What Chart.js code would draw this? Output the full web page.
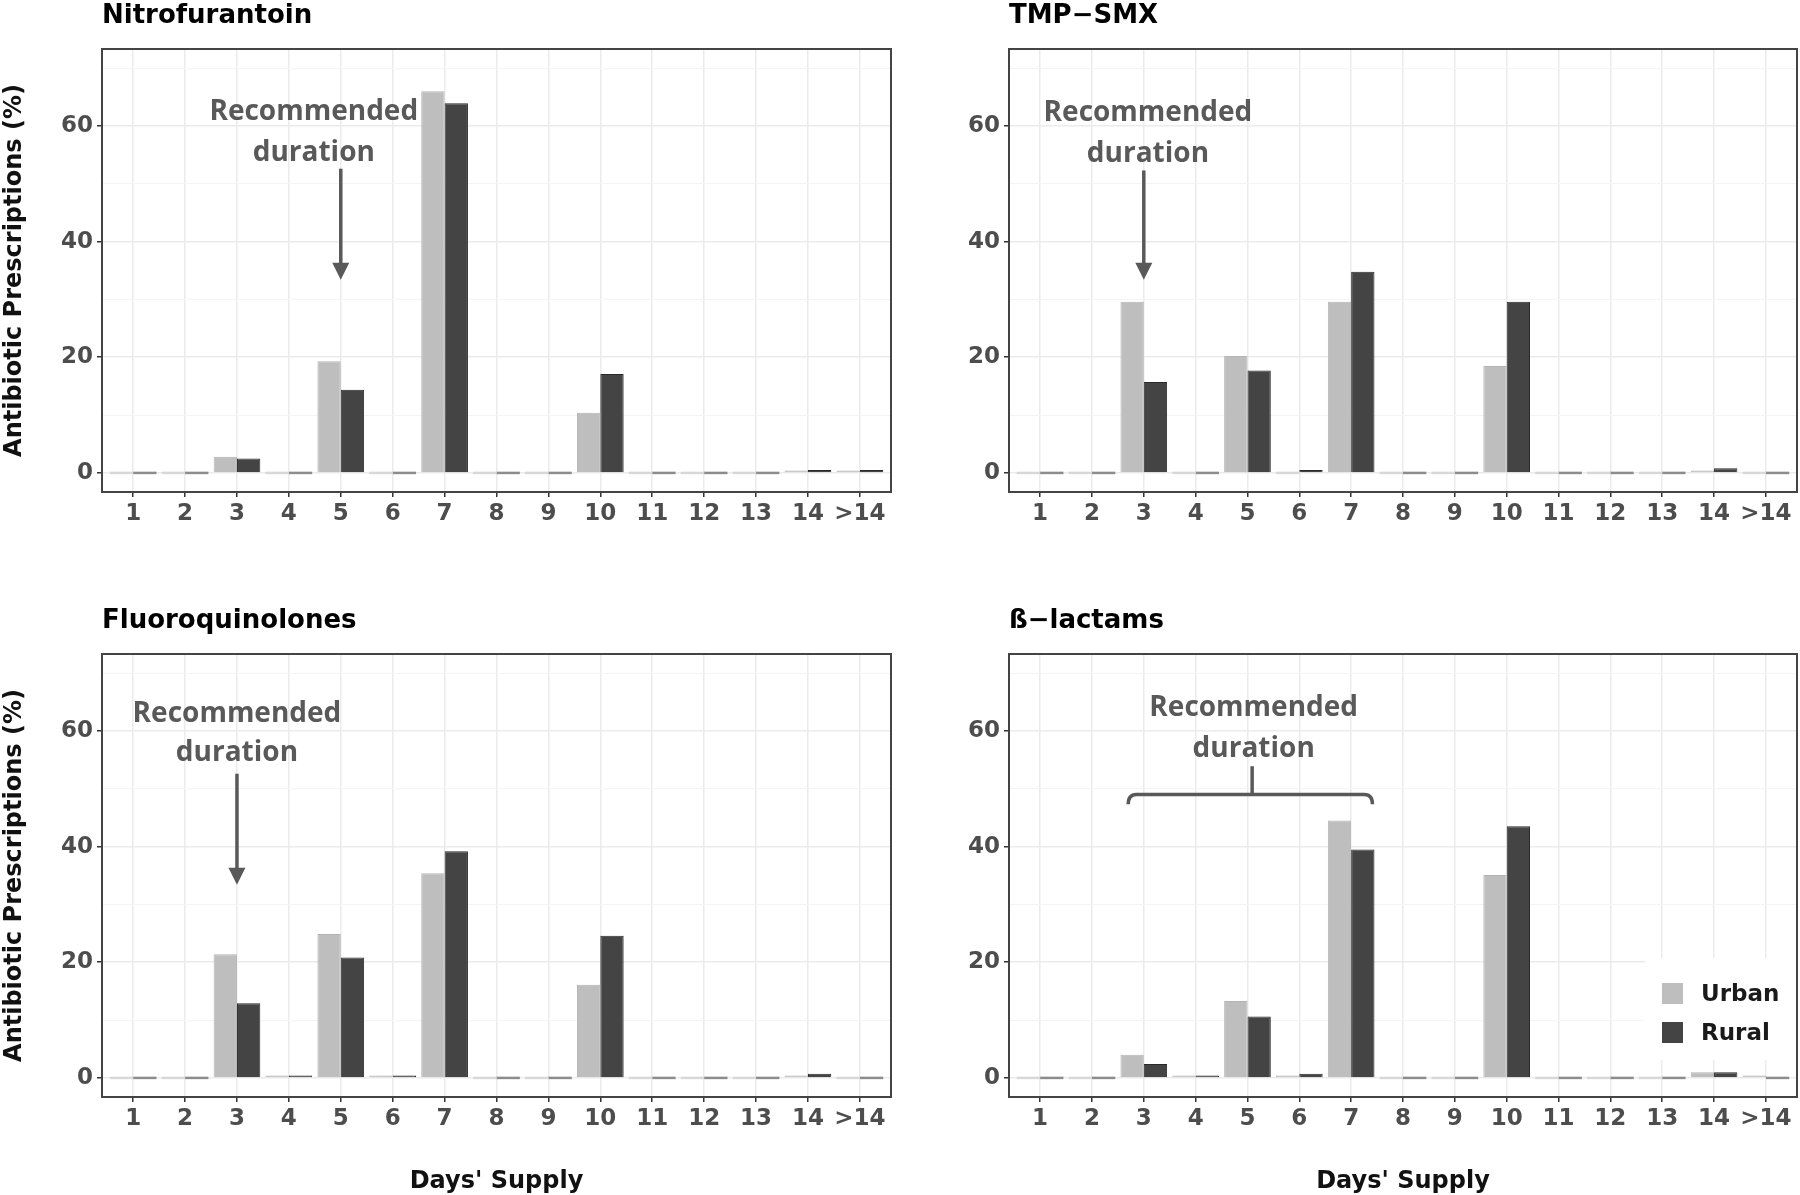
<!DOCTYPE html>
<html>
<head>
<meta charset="utf-8">
<script src="https://cdn.jsdelivr.net/npm/chart.js@4.4.1/dist/chart.umd.min.js"></script>
<style>
  body { margin: 0; background: #fff; }
  #wrap { position: relative; width: 1800px; height: 1195px; background: #fff; }
  #wrap canvas { position: absolute; }
</style>
</head>
<body>
<div id="wrap">
  <canvas id="nitro" width="900" height="540" style="left:0;top:0"></canvas>
  <canvas id="tmp" width="900" height="540" style="left:900px;top:0"></canvas>
  <canvas id="fluoro" width="900" height="655" style="left:0;top:540px"></canvas>
  <canvas id="beta" width="900" height="655" style="left:900px;top:540px"></canvas>
</div>
<script>
// days' supply categories
const days = ['1', '2', '3', '4', '5', '6', '7', '8', '9', '10', '11', '12', '13', '14', '>14'];
const yTickValues = [0, 10, 20, 30, 40, 50, 60, 70];
const yLabelStep = 20;

// % of prescriptions
const nitroUrban = [0, 0, 2.8, 0, 19.3, 0, 66.0, 0, 0, 10.4, 0, 0, 0, 0.3, 0.1];
const nitroRural = [0, 0, 2.5, 0, 14.4, 0, 63.9, 0, 0, 17.1, 0, 0, 0, 0.5, 0.5];
const tmpUrban = [0, 0, 29.6, 0, 20.2, 0, 29.6, 0, 0, 18.5, 0, 0, 0, 0.3, 0];
const tmpRural = [0, 0, 15.7, 0, 17.7, 0.5, 34.8, 0, 0, 29.6, 0, 0, 0, 0.8, 0];
const fluoroUrban = [0, 0, 21.4, 0.3, 24.9, 0.3, 35.4, 0, 0, 16.1, 0, 0, 0, 0.3, 0];
const fluoroRural = [0, 0, 12.9, 0.4, 20.8, 0.4, 39.2, 0, 0, 24.6, 0, 0, 0, 0.7, 0];
const betaUrban = [0, 0, 4.0, 0.3, 13.3, 0.3, 44.5, 0, 0, 35.1, 0, 0, 0, 1.0, 0.3];
const betaRural = [0, 0, 2.4, 0.4, 10.6, 0.7, 39.5, 0, 0, 43.5, 0, 0, 0, 1.0, 0];

const seriesNames = ['Urban', 'Rural'];
const seriesColors = ['#bebebe', '#444444'];
const zeroColors = ['#d8d8d8', '#8c8c8c'];
const edgeColors = ['#b4b4b4', '#2a2a2a'];

const tickFont = { family: 'DejaVu Sans', weight: 'bold', size: 23 };
const tickColor = '#4d4d4d';
const noteFont = 'bold 28px "Open Sans"';
const noteColor = '#595959';

// 注释: 推荐疗程 (data coordinates)
const notes = {
    nitro: { kind: 'arrow', textX: 4.48, line1Y: 61.1, line2Y: 53.9, arrowX: 5, fromY: 52.6, toY: 33.4 },
    tmp: { kind: 'arrow', textX: 3.08, line1Y: 60.8, line2Y: 53.7, arrowX: 3, fromY: 52.3, toY: 33.4 },
    fluoro: { kind: 'arrow', textX: 3.0, line1Y: 61.6, line2Y: 54.8, arrowX: 3, fromY: 52.6, toY: 33.4 },
    beta: { kind: 'brace', textX: 5.12, line1Y: 62.6, line2Y: 55.5, from: 2.70, to: 7.41, mid: 5.09, barY: 49.0, endY: 47.3, topY: 53.9 }
};

const decorPlugin = {
    id: 'decor',
    beforeDatasetsDraw(chart, args, opts) {
        if (!opts.legend) return;
        const ctx = chart.ctx;
        const a = chart.chartArea;
        ctx.save();
        ctx.fillStyle = '#fff';
        ctx.fillRect(a.right - 152, a.bottom - 139, 151, 102);
        ctx.font = 'bold 23px "DejaVu Sans"';
        ctx.textBaseline = 'middle';
        ctx.textAlign = 'left';
        chart.data.datasets.forEach((ds, i) => {
            const top = a.bottom - 114 + i * 39;
            ctx.fillStyle = seriesColors[i];
            ctx.fillRect(a.right - 135, top, 21, 21);
            ctx.fillStyle = '#1a1a1a';
            ctx.fillText(ds.label, a.right - 96, top + 12);
        });
        ctx.restore();
    },
    afterDatasetsDraw(chart, args, opts) {
        const n = opts.note;
        if (!n) return;
        const ctx = chart.ctx;
        const xs = chart.scales.x, ys = chart.scales.y;
        ctx.save();
        ctx.fillStyle = noteColor;
        ctx.strokeStyle = noteColor;
        ctx.font = noteFont;
        ctx.textAlign = 'center';
        ctx.textBaseline = 'alphabetic';
        const tx = xs.getPixelForValue(n.textX);
        ctx.fillText('Recommended', tx, ys.getPixelForValue(n.line1Y));
        ctx.fillText('duration', tx, ys.getPixelForValue(n.line2Y));
        if (n.kind === 'arrow') {
            const ax = xs.getPixelForValue(n.arrowX);
            const y0 = ys.getPixelForValue(n.fromY);
            const y1 = ys.getPixelForValue(n.toY);
            ctx.lineWidth = 3.5;
            ctx.beginPath();
            ctx.moveTo(ax, y0);
            ctx.lineTo(ax, y1 - 12);
            ctx.stroke();
            ctx.beginPath();
            ctx.moveTo(ax - 8.5, y1 - 17);
            ctx.lineTo(ax + 8.5, y1 - 17);
            ctx.lineTo(ax, y1);
            ctx.closePath();
            ctx.fill();
        } else {
            const l = xs.getPixelForValue(n.from), r = xs.getPixelForValue(n.to);
            const m = xs.getPixelForValue(n.mid);
            const by = ys.getPixelForValue(n.barY), ey = ys.getPixelForValue(n.endY);
            const ty = ys.getPixelForValue(n.topY);
            ctx.lineWidth = 3.5;
            ctx.beginPath();
            ctx.moveTo(l, ey);
            ctx.quadraticCurveTo(l, by, l + 8, by);
            ctx.lineTo(r - 8, by);
            ctx.quadraticCurveTo(r, by, r, ey);
            ctx.stroke();
            ctx.beginPath();
            ctx.moveTo(m, by);
            ctx.lineTo(m, ty);
            ctx.stroke();
        }
        ctx.restore();
    },
    afterDraw(chart) {
        const a = chart.chartArea;
        const ctx = chart.ctx;
        ctx.save();
        ctx.strokeStyle = '#444';
        ctx.lineWidth = 2;
        ctx.strokeRect(a.left, a.top, a.right - a.left, a.bottom - a.top);
        ctx.restore();
    }
};

function makeDataset(i, values) {
    return {
        label: seriesNames[i],
        data: values.map((v, k) => ({ x: k + 1, y: v })),
        backgroundColor: c => (c.raw && c.raw.y === 0) ? zeroColors[i] : seriesColors[i],
        borderColor: edgeColors[i],
        borderWidth: c => (c.raw && c.raw.y === 0) ? 0 : 1,
        borderSkipped: 'start',
        categoryPercentage: 0.9,
        barPercentage: 1.0,
        minBarLength: 2.5
    };
}

function makePanel(id, title, urban, rural, o) {
    const ctx = document.getElementById(id);
    return new Chart(ctx, {
        type: 'bar',
        data: { datasets: [makeDataset(0, urban), makeDataset(1, rural)] },
        plugins: [decorPlugin],
        options: {
            responsive: false,
            animation: false,
            layout: { padding: { top: o.padTop, right: o.padRight, left: 0, bottom: 0 } },
            plugins: {
                legend: { display: false },
                tooltip: { enabled: false },
                title: {
                    display: true,
                    text: title,
                    align: 'start',
                    fullSize: false,
                    color: '#000',
                    font: { family: 'DejaVu Sans', weight: 'bold', size: 26 },
                    padding: { top: 0.5, bottom: 17.3 }
                },
                decor: { legend: !!o.legend, note: notes[id] }
            },
            scales: {
                x: {
                    type: 'linear',
                    min: 0.4,
                    max: 15.6,
                    offset: false,
                    afterBuildTicks: s => { s.ticks = days.map((d, i) => ({ value: i + 1 })); },
                    afterFit: s => { s.height = o.xHeight; },
                    ticks: {
                        autoSkip: false,
                        maxRotation: 0,
                        callback: v => days[v - 1],
                        font: tickFont,
                        color: tickColor,
                        padding: 3
                    },
                    grid: {
                        offset: false,
                        color: '#ebebeb',
                        lineWidth: 1.5,
                        tickLength: 5,
                        tickColor: '#333',
                        tickWidth: 1.5
                    },
                    border: { display: false },
                    title: {
                        display: !!o.xTitle,
                        text: "Days' Supply",
                        color: '#111',
                        font: { family: 'DejaVu Sans', weight: 'bold', size: 24, lineHeight: 1.1 },
                        padding: { top: 0, bottom: 0 }
                    }
                },
                y: {
                    min: -3.3,
                    max: 73.3,
                    afterBuildTicks: s => { s.ticks = yTickValues.map(v => ({ value: v })); },
                    afterFit: s => { s.width = o.yWidth; },
                    ticks: {
                        callback: v => v % yLabelStep === 0 ? v : '',
                        font: tickFont,
                        color: tickColor,
                        padding: 4
                    },
                    grid: {
                        color: c => (c.tick && c.tick.value % yLabelStep === 0) ? '#ebebeb' : '#f4f4f4',
                        lineWidth: c => (c.tick && c.tick.value % yLabelStep === 0) ? 1.5 : 1,
                        tickLength: 5,
                        tickColor: c => (c.tick && c.tick.value % yLabelStep === 0) ? '#333' : 'rgba(0,0,0,0)',
                        tickWidth: 1.5
                    },
                    border: { display: false },
                    title: {
                        display: !!o.yTitle,
                        text: 'Antibiotic Prescriptions (%)',
                        color: '#111',
                        font: { family: 'DejaVu Sans', weight: 'bold', size: 24 },
                        padding: { top: 0, bottom: 0 }
                    }
                }
            }
        }
    });
}

function drawAll() {
    makePanel('nitro', 'Nitrofurantoin', nitroUrban, nitroRural,
        { padTop: 0, padRight: 9, yWidth: 102, xHeight: 48, yTitle: true });
    makePanel('tmp', 'TMP\u2212SMX', tmpUrban, tmpRural,
        { padTop: 0, padRight: 3, yWidth: 109, xHeight: 48 });
    makePanel('fluoro', 'Fluoroquinolones', fluoroUrban, fluoroRural,
        { padTop: 65, padRight: 9, yWidth: 102, xHeight: 98, yTitle: true, xTitle: true });
    makePanel('beta', '\u00df\u2212lactams', betaUrban, betaRural,
        { padTop: 65, padRight: 3, yWidth: 109, xHeight: 98, xTitle: true, legend: true });
}

Promise.all([
    document.fonts.load('bold 22px "DejaVu Sans"'),
    document.fonts.load(noteFont)
]).then(drawAll, drawAll);
</script>
</body>
</html>
